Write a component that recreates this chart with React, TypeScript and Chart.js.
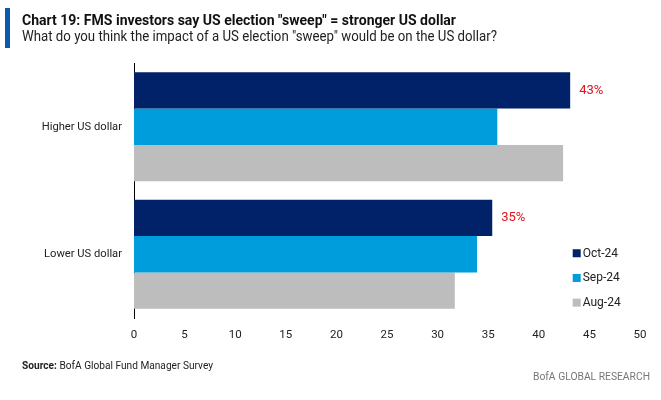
import React, { useEffect, useLayoutEffect, useRef } from "react";
import { Chart, registerables } from "chart.js";

Chart.register(...registerables);

const categories = ["Higher US dollar", "Lower US dollar"];
const seriesNames = ["Oct-24", "Sep-24", "Aug-24"];
const oct24 = [43.1, 35.4];
const sep24 = [35.9, 33.9];
const aug24 = [42.4, 31.7];
const seriesColors = ["#012169", "#009DDC", "#BDBDBD"];
const oct24Labels = ["43%", "35%"];
const xTickStep = 5;
const xMax = 50;

const FONT = "Roboto, 'Liberation Sans', sans-serif";

const overlayPlugin = {
  id: "overlay",
  afterDatasetsDraw(chart: any) {
    const ctx = chart.ctx;
    const meta = chart.getDatasetMeta(0);
    ctx.save();
    ctx.font = `13px ${FONT}`;
    ctx.fillStyle = "#E4101E";
    ctx.textAlign = "left";
    ctx.textBaseline = "middle";
    meta.data.forEach((bar: any, i: number) => {
      ctx.fillText(oct24Labels[i], bar.x + 9, bar.y);
    });
    // legend, placed inside the plot area at the lower right
    const xs = chart.scales.x;
    const ys = chart.scales.y;
    const lx = xs.getPixelForValue(43.35);
    const y0 = ys.getPixelForValue(1) - 1;
    ctx.font = `12px ${FONT}`;
    seriesNames.forEach((name, i) => {
      const cy = y0 + i * 24.7;
      ctx.fillStyle = seriesColors[i];
      ctx.fillRect(lx, cy - 4, 8, 8);
      ctx.fillStyle = "#222";
      ctx.fillText(name, lx + 10, cy + 0.5);
    });
    ctx.restore();
  },
};

function FitText({ width, style, children }: { width: number; style: any; children: any }) {
  const ref = useRef<HTMLSpanElement>(null);
  useLayoutEffect(() => {
    const el = ref.current!;
    el.style.transform = "none";
    const w = el.getBoundingClientRect().width;
    if (w > 0) el.style.transform = `scaleX(${width / w})`;
  });
  return (
    <span
      ref={ref}
      style={{ position: "absolute", whiteSpace: "nowrap", transformOrigin: "0 0", display: "inline-block", ...style }}
    >
      {children}
    </span>
  );
}

export default function App() {
  const ref = useRef<HTMLCanvasElement>(null);
  useEffect(() => {
    document.body.style.margin = "0";
    const chart = new Chart(ref.current!, {
      type: "bar",
      data: {
        labels: categories,
        datasets: [
          { label: seriesNames[0], data: oct24, backgroundColor: seriesColors[0] },
          { label: seriesNames[1], data: sep24, backgroundColor: seriesColors[1] },
          { label: seriesNames[2], data: aug24, backgroundColor: seriesColors[2] },
        ],
      },
      options: {
        indexAxis: "y",
        animation: false,
        responsive: false,
        maintainAspectRatio: false,
        layout: { padding: { top: 63, right: 21, left: 0, bottom: 0 } },
        plugins: { legend: { display: false }, tooltip: { enabled: false } },
        datasets: { bar: { barPercentage: 1, categoryPercentage: 0.855, borderWidth: 0 } },
        scales: {
          x: {
            min: 0,
            max: xMax,
            ticks: { stepSize: xTickStep, color: "#222", font: { family: FONT, size: 11.5 }, padding: 10 },
            grid: { display: false, drawTicks: false },
            border: { display: false },
            afterFit: (s: any) => { s.height = 82; },
          },
          y: {
            ticks: { color: "#222", font: { family: FONT, size: 11.2 }, padding: 12 },
            grid: { display: false, drawTicks: false },
            border: { display: true, color: "#000", width: 1 },
            afterFit: (s: any) => { s.width = 134; },
          },
        },
      },
      plugins: [overlayPlugin],
    } as any);
    return () => chart.destroy();
  }, []);

  return (
    <div style={{ position: "relative", width: 661, height: 400, background: "#fff", fontFamily: FONT, overflow: "hidden" }}>
      <canvas ref={ref} width={661} height={400} style={{ position: "absolute", left: 0, top: 0 }} />
      <div style={{ position: "absolute", left: 5, top: 8, width: 5, height: 40, background: "#0A5AAE" }} />
      <FitText width={434} style={{ left: 22, top: 11, fontSize: 15, fontWeight: "bold", color: "#111", lineHeight: "18px" }}>
        Chart 19: FMS investors say US election "sweep" = stronger US dollar
      </FitText>
      <FitText width={475} style={{ left: 22, top: 28, fontSize: 14, color: "#222", lineHeight: "17px" }}>
        What do you think the impact of a US election "sweep" would be on the US dollar?
      </FitText>
      <FitText width={191} style={{ left: 22, top: 358, fontSize: 11.5, color: "#222", lineHeight: "14px" }}>
        <b>Source:</b> BofA Global Fund Manager Survey
      </FitText>
      <FitText width={117} style={{ left: 533, top: 369, fontSize: 11.5, color: "#777", lineHeight: "14px" }}>
        BofA GLOBAL RESEARCH
      </FitText>
    </div>
  );
}
